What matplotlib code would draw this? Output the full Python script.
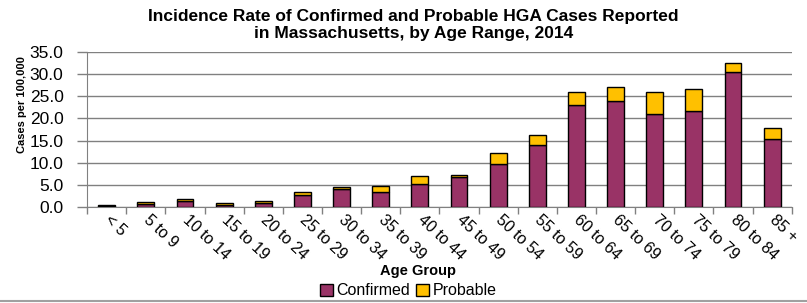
import numpy as np
import matplotlib
matplotlib.use('Agg')
import matplotlib.pyplot as plt
from matplotlib.lines import Line2D

plt.rcParams['font.family'] = ['Liberation Sans', 'DejaVu Sans']

# data (cases per 100,000)
ageGroups = ['< 5', '5 to 9', '10 to 14', '15 to 19', '20 to 24', '25 to 29',
             '30 to 34', '35 to 39', '40 to 44', '45 to 49', '50 to 54', '55 to 59',
             '60 to 64', '65 to 69', '70 to 74', '75 to 79', '80 to 84', '85 +']
confirmed = [0.3, 0.6, 1.3, 0.5, 0.9, 2.7, 4.1, 3.4, 5.3, 6.8, 9.7, 14.1,
             23.0, 23.9, 20.9, 21.6, 30.4, 15.3]
probable = [0.1, 0.6, 0.4, 0.4, 0.45, 0.6, 0.5, 1.3, 1.7, 0.4, 2.4, 2.1,
            3.0, 3.3, 5.1, 5.0, 2.2, 2.6]
yTicks = [0, 5, 10, 15, 20, 25, 30, 35]

fig = plt.figure(figsize=(8.07, 3.03), dpi=100)
ax = fig.add_axes([0.108, 0.317, 0.873, 0.511])

x = np.arange(len(ageGroups))
ax.bar(x, confirmed, width=0.43, color='#993366', edgecolor='black',
       linewidth=1, label='Confirmed', zorder=3)
ax.bar(x, probable, width=0.43, bottom=confirmed, color='#FFC000',
       edgecolor='black', linewidth=1, label='Probable', zorder=3)

ax.set_xlim(-0.5, len(ageGroups) - 0.5)
ax.set_ylim(0, 35)
ax.set_yticks(yTicks)
ax.set_yticklabels(['%.1f' % v for v in yTicks], fontsize=12.5)
ax.yaxis.grid(True, color='#808080', linewidth=1, zorder=0)
ax.tick_params(axis='y', length=7, width=1, color='#808080', pad=10)

ax.set_xticks(x)
ax.set_xticklabels(ageGroups, rotation=-43, ha='left', va='center',
                   rotation_mode='anchor', fontsize=11.5)
ax.set_xticks(np.arange(-0.5, len(ageGroups)), minor=True)
ax.tick_params(axis='x', which='major', length=0, pad=8)
ax.tick_params(axis='x', which='minor', length=5, width=1, color='#808080')

for side in ['top', 'right']:
    ax.spines[side].set_visible(False)
for side in ['left', 'bottom']:
    ax.spines[side].set_color('#808080')

ax.set_ylabel('Cases per 100,000', fontsize=8, fontweight='bold',
              family=['Liberation Sans Narrow', 'Liberation Sans'])
ax.yaxis.set_label_coords(-0.085, 0.66)

fig.text(0.512, 0.945, 'Incidence Rate of Confirmed and Probable HGA Cases Reported',
         ha='center', va='center', fontsize=12.5, fontweight='bold')
fig.text(0.512, 0.89, 'in Massachusetts, by Age Range, 2014',
         ha='center', va='center', fontsize=12.5, fontweight='bold')
fig.text(0.518, 0.105, 'Age Group', ha='center', va='center',
         fontsize=10.5, fontweight='bold')

fig.legend(loc='center', bbox_to_anchor=(0.506, 0.04), ncol=2, frameon=False,
           fontsize=11.5, handlelength=0.8, handleheight=0.8, handletextpad=0.2,
           columnspacing=0.4, borderpad=0)

fig.add_artist(Line2D([0, 1], [0.006, 0.006], color='#a0a0a0', linewidth=1.5,
                      transform=fig.transFigure))

fig.savefig('out.png', dpi=100)
